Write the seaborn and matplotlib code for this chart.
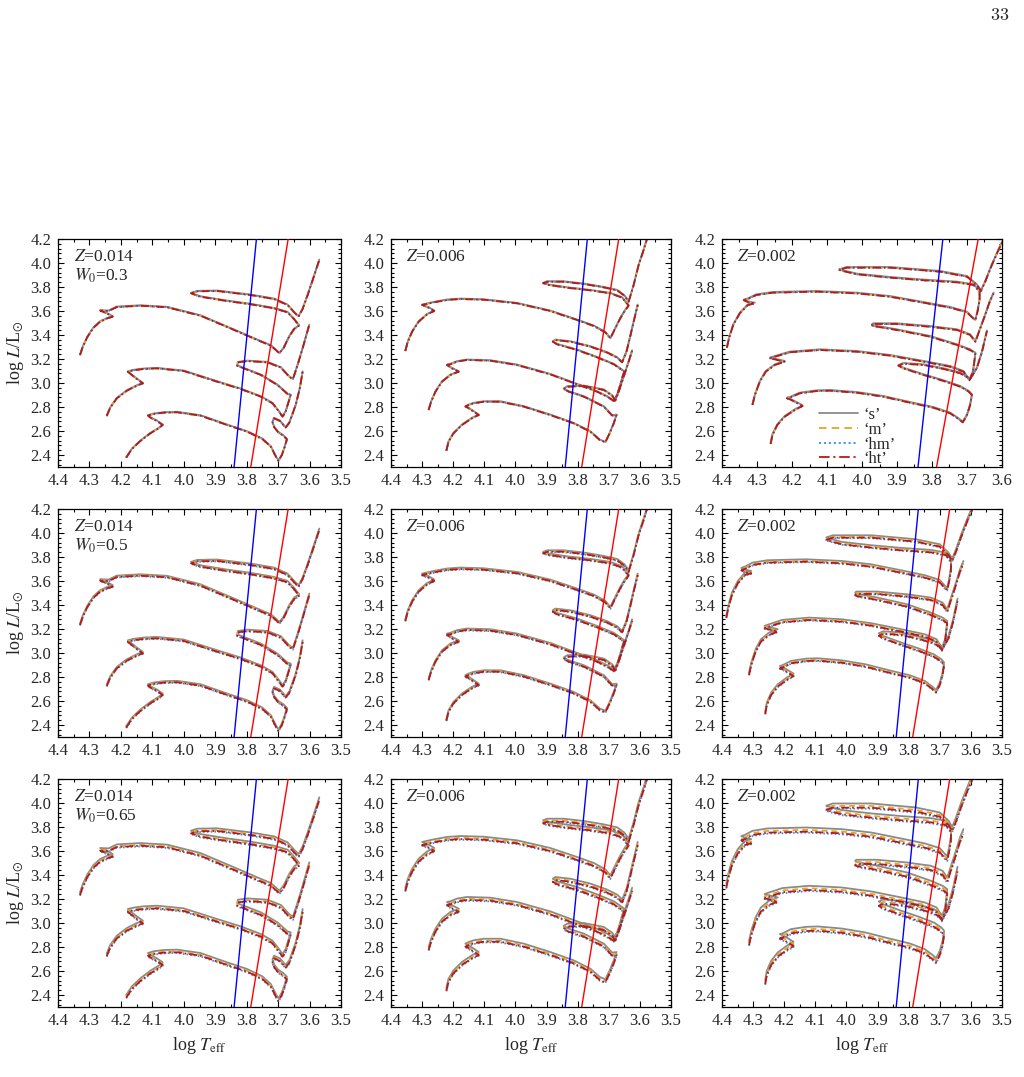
import pandas as pd
import seaborn as sns
import matplotlib.pyplot as plt
from matplotlib.ticker import MultipleLocator
from matplotlib.lines import Line2D

# ---- track data (log Teff, log L) ----
# Z=0.014
z014_a = [(4.183, 2.378), (4.165, 2.450), (4.138, 2.517), (4.106, 2.581), (4.080, 2.622), (4.067, 2.650),
          (4.085, 2.683), (4.106, 2.711), (4.114, 2.728), (4.096, 2.742), (4.064, 2.753), (4.021, 2.756),
          (3.947, 2.728), (3.862, 2.650), (3.798, 2.594), (3.750, 2.533), (3.723, 2.469), (3.707, 2.386),
          (3.699, 2.350), (3.688, 2.400), (3.680, 2.460), (3.672, 2.530), (3.683, 2.560), (3.700, 2.590),
          (3.712, 2.630), (3.718, 2.672), (3.713, 2.706), (3.694, 2.683), (3.676, 2.628), (3.664, 2.670),
          (3.644, 2.817), (3.631, 2.956), (3.622, 3.094)]
z014_b = [(4.245, 2.725), (4.234, 2.794), (4.213, 2.872), (4.181, 2.936), (4.149, 2.978), (4.130, 2.997),
          (4.149, 3.033), (4.168, 3.072), (4.178, 3.094), (4.160, 3.106), (4.128, 3.117), (4.085, 3.122),
          (4.000, 3.100), (3.894, 3.011), (3.819, 2.950), (3.755, 2.886), (3.718, 2.831), (3.697, 2.761),
          (3.686, 2.719), (3.676, 2.761), (3.668, 2.831), (3.660, 2.900), (3.670, 2.908), (3.702, 2.983),
          (3.755, 3.067), (3.809, 3.122), (3.830, 3.144), (3.828, 3.172), (3.798, 3.183), (3.734, 3.172),
          (3.691, 3.128), (3.665, 3.053), (3.653, 3.031), (3.638, 3.150), (3.622, 3.289), (3.601, 3.483)]
z014_c = [(4.330, 3.233), (4.321, 3.303), (4.306, 3.386), (4.287, 3.461), (4.266, 3.511), (4.243, 3.539),
          (4.226, 3.553), (4.245, 3.581), (4.266, 3.603), (4.239, 3.600), (4.213, 3.633), (4.138, 3.644),
          (4.053, 3.631), (3.947, 3.561), (3.840, 3.442), (3.766, 3.358), (3.723, 3.311), (3.704, 3.267),
          (3.696, 3.247), (3.683, 3.289), (3.665, 3.386), (3.649, 3.450), (3.633, 3.478), (3.649, 3.531),
          (3.670, 3.589), (3.713, 3.622), (3.787, 3.656), (3.862, 3.683), (3.947, 3.719), (3.977, 3.747),
          (3.957, 3.764), (3.894, 3.767), (3.787, 3.733), (3.713, 3.700), (3.670, 3.650), (3.649, 3.589),
          (3.635, 3.553), (3.622, 3.617), (3.606, 3.733), (3.590, 3.858), (3.569, 4.025)]
# Z=0.006
z006_a = [(4.222, 2.436), (4.215, 2.511), (4.199, 2.581), (4.172, 2.650), (4.140, 2.706), (4.118, 2.733),
          (4.134, 2.761), (4.153, 2.794), (4.161, 2.803), (4.150, 2.817), (4.134, 2.831), (4.102, 2.844),
          (4.048, 2.844), (3.973, 2.803), (3.888, 2.733), (3.813, 2.664), (3.759, 2.594), (3.729, 2.525),
          (3.711, 2.506), (3.697, 2.581), (3.684, 2.664), (3.675, 2.733), (3.689, 2.728), (3.716, 2.803),
          (3.780, 2.886), (3.829, 2.928), (3.845, 2.950), (3.834, 2.969), (3.780, 2.975), (3.716, 2.942),
          (3.689, 2.894), (3.679, 2.853), (3.668, 2.928), (3.652, 3.053), (3.636, 3.178), (3.625, 3.269)]
z006_b = [(4.279, 2.775), (4.271, 2.844), (4.257, 2.928), (4.236, 3.011), (4.209, 3.067), (4.182, 3.094),
          (4.204, 3.122), (4.220, 3.150), (4.209, 3.156), (4.188, 3.178), (4.156, 3.192), (4.081, 3.186),
          (3.995, 3.150), (3.888, 3.072), (3.802, 2.989), (3.738, 2.928), (3.705, 2.886), (3.684, 2.850),
          (3.673, 2.900), (3.663, 2.983), (3.654, 3.067), (3.650, 3.094), (3.665, 3.122), (3.684, 3.156),
          (3.738, 3.214), (3.802, 3.275), (3.866, 3.322), (3.880, 3.344), (3.872, 3.358), (3.823, 3.344),
          (3.759, 3.303), (3.705, 3.253), (3.673, 3.211), (3.657, 3.172), (3.643, 3.261), (3.630, 3.400),
          (3.620, 3.511), (3.607, 3.650)]
z006_c = [(4.354, 3.267), (4.346, 3.344), (4.332, 3.428), (4.311, 3.511), (4.284, 3.572), (4.261, 3.600),
          (4.279, 3.628), (4.300, 3.650), (4.290, 3.656), (4.263, 3.672), (4.220, 3.692), (4.177, 3.700),
          (4.102, 3.694), (3.995, 3.664), (3.888, 3.600), (3.802, 3.525), (3.748, 3.475), (3.711, 3.422),
          (3.695, 3.372), (3.679, 3.456), (3.663, 3.539), (3.647, 3.608), (3.636, 3.644), (3.657, 3.711),
          (3.695, 3.747), (3.759, 3.772), (3.834, 3.794), (3.893, 3.817), (3.911, 3.831), (3.898, 3.844),
          (3.845, 3.844), (3.780, 3.825), (3.716, 3.797), (3.673, 3.772), (3.650, 3.728), (3.636, 3.678),
          (3.620, 3.817), (3.604, 3.983), (3.588, 4.108), (3.577, 4.200)]
# Z=0.002
z002_a = [(4.261, 2.492), (4.256, 2.567), (4.242, 2.650), (4.221, 2.719), (4.192, 2.775), (4.170, 2.808),
          (4.189, 2.839), (4.206, 2.864), (4.214, 2.872), (4.206, 2.878), (4.178, 2.914), (4.130, 2.933),
          (4.092, 2.936), (4.015, 2.919), (3.939, 2.886), (3.863, 2.836), (3.796, 2.794), (3.748, 2.747),
          (3.724, 2.700), (3.712, 2.672), (3.700, 2.733), (3.691, 2.817), (3.686, 2.900), (3.695, 2.928),
          (3.719, 2.969), (3.767, 3.017), (3.824, 3.067), (3.882, 3.122), (3.896, 3.144), (3.882, 3.161),
          (3.824, 3.150), (3.767, 3.117), (3.719, 3.081), (3.691, 3.033), (3.672, 3.122), (3.657, 3.261),
          (3.643, 3.433)]
z002_b = [(4.313, 2.817), (4.306, 2.900), (4.292, 3.011), (4.275, 3.094), (4.249, 3.150), (4.221, 3.178),
          (4.242, 3.192), (4.263, 3.206), (4.249, 3.219), (4.206, 3.256), (4.120, 3.275), (4.015, 3.261),
          (3.920, 3.228), (3.824, 3.178), (3.748, 3.136), (3.710, 3.094), (3.693, 3.022), (3.683, 3.094),
          (3.679, 3.178), (3.676, 3.247), (3.691, 3.275), (3.729, 3.317), (3.805, 3.386), (3.901, 3.442),
          (3.968, 3.475), (3.972, 3.483), (3.968, 3.492), (3.901, 3.492), (3.805, 3.469), (3.729, 3.442),
          (3.691, 3.400), (3.676, 3.344), (3.662, 3.456), (3.648, 3.567), (3.635, 3.678), (3.624, 3.747)]
z002_c = [(4.386, 3.294), (4.380, 3.372), (4.368, 3.483), (4.349, 3.581), (4.326, 3.650), (4.306, 3.664),
          (4.323, 3.672), (4.338, 3.689), (4.326, 3.700), (4.302, 3.733), (4.254, 3.753), (4.130, 3.761),
          (4.015, 3.747), (3.920, 3.719), (3.824, 3.669), (3.748, 3.628), (3.700, 3.589), (3.683, 3.539),
          (3.676, 3.525), (3.670, 3.594), (3.664, 3.692), (3.664, 3.761), (3.681, 3.817), (3.729, 3.839),
          (3.824, 3.856), (3.920, 3.878), (4.015, 3.906), (4.058, 3.936), (4.065, 3.942), (4.044, 3.961),
          (3.920, 3.961), (3.777, 3.928), (3.700, 3.886), (3.672, 3.817), (3.660, 3.767), (3.648, 3.844),
          (3.629, 3.983), (3.610, 4.108), (3.595, 4.200)]

tracks = {'0.014': [z014_a, z014_b, z014_c],
          '0.006': [z006_a, z006_b, z006_c],
          '0.002': [z002_a, z002_b, z002_c]}

metallicities = ['0.014', '0.006', '0.002']
w0_values = ['0.3', '0.5', '0.65']
models = ['s', 'm', 'hm', 'ht']
legend_labels = ['\u2018s\u2019', '\u2018m\u2019', '\u2018hm\u2019', '\u2018ht\u2019']

# vertical separation of the models in each panel (rows = W0, cols = Z)
dy_s = [[0.004, 0.004, 0.006], [0.012, 0.012, 0.020], [0.022, 0.025, 0.035]]
dy_m = [[0.0, 0.0, 0.0], [0.004, 0.004, 0.008], [0.008, 0.010, 0.015]]
dy_hm = [[0.0, 0.0, 0.0], [-0.004, -0.004, -0.004], [-0.006, -0.006, -0.008]]
dy_ht = [[0.0, 0.0, 0.0], [0.0, 0.0, 0.0], [0.0, 0.0, 0.0]]

# instability strip edges
blue_edge_x = [3.840, 3.769]
red_edge_x = [3.787, 3.668]
edge_y = [2.3, 4.2]

colors = {'s': '#8a8a8a', 'm': '#e3a626', 'hm': '#3a8ee8', 'ht': '#b81818'}
dashes = {'s': '', 'm': (3.2, 2.2), 'hm': (0.9, 1.2), 'ht': (4.5, 1.6, 0.9, 1.6)}

sns.set_theme(style='ticks')
plt.rcParams['font.family'] = ['Liberation Serif', 'DejaVu Serif']
plt.rcParams['mathtext.fontset'] = 'stix'

fig = plt.figure(figsize=(10.24, 10.77), dpi=100)

lefts = [58, 391, 722]
widths = [283, 280, 280]
tops = [239, 509, 779]
H = 228
LW = 1.3

for r in range(3):
    for c in range(3):
        ax = fig.add_axes([lefts[c] / 1024, (1077 - tops[r] - H) / 1077, widths[c] / 1024, H / 1077])
        offs = {'s': dy_s[r][c], 'm': dy_m[r][c], 'hm': dy_hm[r][c], 'ht': dy_ht[r][c]}
        rows = []
        for ti, trk in enumerate(tracks[metallicities[c]]):
            for m in models:
                for x, y in trk:
                    rows.append({'x': x, 'y': y + offs[m], 'model': m, 'track': ti})
        df = pd.DataFrame(rows)
        sns.lineplot(data=df, x='x', y='y', hue='model', style='model', units='track',
                     estimator=None, sort=False, hue_order=models, style_order=models,
                     palette=colors, dashes=dashes, lw=LW, legend=False, ax=ax)

        ax.plot(blue_edge_x, edge_y, color='#0000ff', lw=1.0, zorder=5)
        ax.plot(red_edge_x, edge_y, color='#ff0000', lw=1.0, zorder=5)

        ax.set_xlim(4.4, 3.6 if (r == 0 and c == 2) else 3.5)
        ax.set_ylim(2.3, 4.2)
        ax.xaxis.set_major_locator(MultipleLocator(0.1))
        ax.yaxis.set_major_locator(MultipleLocator(0.2))
        ax.xaxis.set_minor_locator(MultipleLocator(0.05))
        ax.yaxis.set_minor_locator(MultipleLocator(0.04))
        ax.xaxis.set_major_formatter(plt.FormatStrFormatter('%.1f'))
        ax.yaxis.set_major_formatter(plt.FormatStrFormatter('%.1f'))
        ax.tick_params(which='both', direction='in', top=True, right=True, labelsize=12,
                       color='black', width=0.8)
        ax.tick_params(which='major', length=4)
        ax.tick_params(which='minor', length=2)
        ax.tick_params(axis='x', pad=4)
        ax.tick_params(axis='y', pad=5)
        for sp in ax.spines.values():
            sp.set_color('black')
            sp.set_linewidth(0.9)

        ax.set_xlabel('')
        ax.set_ylabel('')
        if c == 0:
            ax.set_ylabel(r'log $L$/L$_{\odot}$', fontsize=13, labelpad=3)
            ax.text(0.055, 0.955, '$Z$=' + metallicities[c] + '\n' + '$W_0$=' + w0_values[r],
                    transform=ax.transAxes, ha='left', va='top', fontsize=12.5, linespacing=1.1)
        else:
            ax.text(0.055, 0.955, '$Z$=' + metallicities[c], transform=ax.transAxes,
                    ha='left', va='top', fontsize=12.5)
        if r == 2:
            ax.set_xlabel(r'log $T_{\rm eff}$', fontsize=13, labelpad=5)

        if r == 0 and c == 2:
            handles = []
            for m in models:
                ln = Line2D([], [], color=colors[m], lw=LW)
                if dashes[m]:
                    ln.set_dashes([d * LW for d in dashes[m]])
                handles.append(ln)
            ax.legend(handles, legend_labels, loc='upper left', bbox_to_anchor=(0.345, 0.262),
                      frameon=False, fontsize=12, handlelength=2.35, handletextpad=0.35,
                      labelspacing=-0.08, borderpad=0, borderaxespad=0)

fig.text(1000 / 1024, 1 - 15 / 1077, r'$33$', math_fontfamily='cm', fontsize=13,
         ha='center', va='center')

fig.savefig('out.png', dpi=100)
